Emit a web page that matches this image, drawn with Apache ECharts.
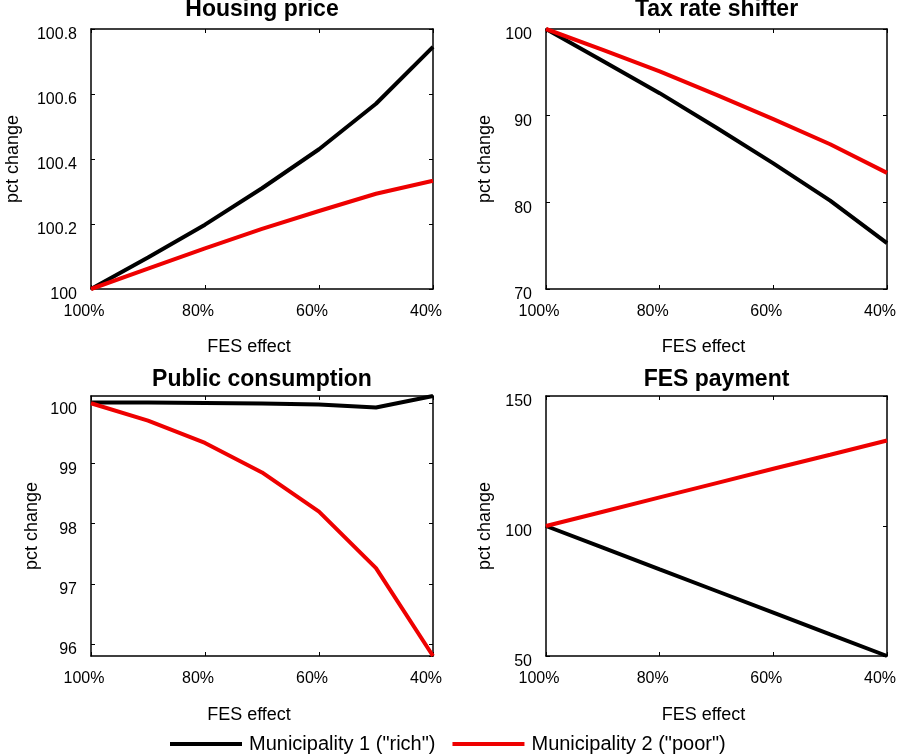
<!DOCTYPE html>
<html>
<head>
<meta charset="utf-8">
<script src="https://cdn.jsdelivr.net/npm/echarts@6/dist/echarts.min.js"></script>
<style>
html,body{margin:0;padding:0;background:#fff;}
#chart{width:898px;height:756px;}
</style>
</head>
<body>
<div id="chart"></div>
<script>
// FES effect (x values, percent)
const fesEffect = [100, 90, 80, 70, 60, 50, 40];
const xTicks = [100, 80, 60, 40];

const seriesNames = ['Municipality 1 ("rich")', 'Municipality 2 ("poor")'];
const panelTitles = ['Housing price', 'Tax rate shifter', 'Public consumption', 'FES payment'];

// Housing price
const housingRich = [100, 100.097, 100.198, 100.31, 100.43, 100.57, 100.745];
const housingPoor = [100, 100.063, 100.125, 100.185, 100.24, 100.293, 100.333];
const housingTicks = [100, 100.2, 100.4, 100.6, 100.8];

// Tax rate shifter
const taxRich = [100, 96.3, 92.6, 88.6, 84.5, 80.2, 75.3];
const taxPoor = [100, 97.6, 95.1, 92.4, 89.6, 86.7, 83.4];
const taxTicks = [70, 80, 90, 100];

// Public consumption
const publicRich = [100.01, 100.01, 100.005, 99.995, 99.98, 99.93, 100.12];
const publicPoor = [100, 99.71, 99.34, 98.85, 98.2, 97.26, 95.8];
const publicTicks = [96, 97, 98, 99, 100];
const publicRange = [95.8, 100.12];

// FES payment
const fesRich = [100, 91.7, 83.3, 75, 66.7, 58.3, 50];
const fesPoor = [100, 105.5, 111, 116.5, 122, 127.4, 132.9];
const fesTicks = [50, 100, 150];

const colors = ['#000000', '#ee0000'];
const FONT = 'Liberation Sans, Arial, Helvetica, sans-serif';

const grids = [
  {left: 91, top: 29, width: 342, height: 260, outerBoundsMode: 'none', containLabel: false},
  {left: 546, top: 29, width: 341, height: 260, outerBoundsMode: 'none', containLabel: false},
  {left: 91, top: 396, width: 342, height: 260, outerBoundsMode: 'none', containLabel: false},
  {left: 546, top: 396, width: 341, height: 260, outerBoundsMode: 'none', containLabel: false}
];
const yNameGaps = [69, 52, 50, 52];
const xNameGaps = [49, 49, 50, 50];
const titleTops = [-1.5, -1.5, 368.5, 368.5];

const panels = [
  {rich: housingRich, poor: housingPoor, ticks: housingTicks},
  {rich: taxRich, poor: taxPoor, ticks: taxTicks},
  {rich: publicRich, poor: publicPoor, ticks: publicTicks, range: publicRange},
  {rich: fesRich, poor: fesPoor, ticks: fesTicks}
];

const fmtNum = v => String(parseFloat(Number(v).toFixed(6)));

const xAxes = [], yAxes = [], series = [], titles = [];
panels.forEach((p, i) => {
  const g = grids[i];
  const xStep = xTicks[0] - xTicks[1];
  const baseX = {
    type: 'value', gridIndex: i, inverse: true,
    min: Math.min(...xTicks), max: Math.max(...xTicks), interval: xStep,
    axisLine: {show: true, onZero: false, lineStyle: {color: '#000', width: 1.5}},
    axisTick: {show: true, inside: true, length: 4, lineStyle: {color: '#000', width: 1}},
    splitLine: {show: false}
  };
  xAxes.push(Object.assign({}, baseX, {
    position: 'bottom',
    name: 'FES effect', nameLocation: 'middle', nameGap: xNameGaps[i],
    nameTextStyle: {fontFamily: FONT, fontSize: 18, color: '#000', padding: [0, 26, 0, 0]},
    axisLabel: {show: true, formatter: '{value}%', fontFamily: FONT, fontSize: 16, color: '#000', margin: 15, padding: [0, 14, 0, 0]}
  }));
  xAxes.push(Object.assign({}, baseX, {position: 'top', axisLabel: {show: false}}));

  const yStep = p.ticks[1] - p.ticks[0];
  const ymin = p.range ? p.range[0] : p.ticks[0];
  const ymax = p.range ? p.range[1] : p.ticks[p.ticks.length - 1];
  const baseY = {
    type: 'value', gridIndex: i, min: ymin, max: ymax,
    axisLine: {show: true, onZero: false, lineStyle: {color: '#000', width: 1.5}},
    axisTick: {show: true, inside: true, length: 4, lineStyle: {color: '#000', width: 1}},
    splitLine: {show: false}
  };
  if (!p.range) baseY.interval = yStep; else baseY.splitNumber = 5;
  yAxes.push(Object.assign({}, baseY, {
    position: 'left',
    name: 'pct change', nameLocation: 'middle', nameGap: yNameGaps[i],
    nameTextStyle: {fontFamily: FONT, fontSize: 18, color: '#000'},
    axisLabel: {show: true, formatter: fmtNum, fontFamily: FONT, fontSize: 16, color: '#000', margin: 14,
      verticalAlign: 'top', lineHeight: 12,
      showMinLabel: !p.range, showMaxLabel: !p.range}
  }));
  yAxes.push(Object.assign({}, baseY, {position: 'right', axisLabel: {show: false}}));

  [p.rich, p.poor].forEach((vals, k) => {
    series.push({
      name: seriesNames[k], type: 'line',
      xAxisIndex: i * 2, yAxisIndex: i * 2,
      data: fesEffect.map((x, j) => [x, vals[j]]),
      showSymbol: false, symbol: 'none', smooth: false,
      lineStyle: {color: colors[k], width: 4},
      itemStyle: {color: colors[k]},
      z: 3 + k, clip: false
    });
  });

  titles.push({
    text: panelTitles[i],
    left: g.left + g.width / 2, top: titleTops[i], textAlign: 'center', padding: 0,
    textStyle: {fontFamily: FONT, fontSize: 23, fontWeight: 'bold', color: '#000'}
  });
});

const chart = echarts.init(document.getElementById('chart'), null, {renderer: 'canvas'});
chart.setOption({
  animation: false,
  backgroundColor: '#fff',
  title: titles,
  grid: grids,
  xAxis: xAxes,
  yAxis: yAxes,
  legend: {
    data: seriesNames,
    left: 165, top: 729,
    icon: 'rect', itemWidth: 72, itemHeight: 4, itemGap: 17,
    textStyle: {fontFamily: FONT, fontSize: 20, color: '#000', padding: [0, 0, 0, 2]}
  },
  series: series
});
</script>
</body>
</html>
